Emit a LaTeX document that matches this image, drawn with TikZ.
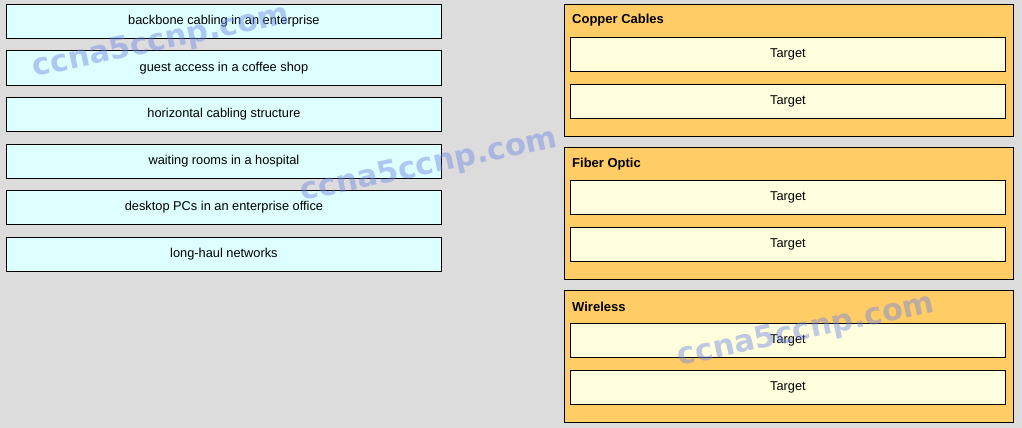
\documentclass[tikz,border=0pt]{standalone}
\usepackage{fontspec}
\setmainfont{Liberation Sans}
\newfontfamily\markfont{DejaVu Sans Bold}
\definecolor{bgray}{HTML}{DCDCDC}
\definecolor{itemcyan}{HTML}{DDFFFF}
\definecolor{grouporange}{HTML}{FFCC66}
\definecolor{targetyellow}{HTML}{FFFFDD}
\definecolor{markblue}{HTML}{6F86E6}
\begin{document}
\begin{tikzpicture}[x=1pt,y=-1pt,
  item/.style={draw=black, line width=0.9pt, fill=itemcyan, anchor=north west,
    minimum width=435pt, minimum height=34pt, inner sep=0pt, font=\fontsize{12.8}{14}\selectfont},
  group/.style={draw=black, line width=0.9pt, fill=grouporange, anchor=north west,
    minimum width=449pt, minimum height=132pt, inner sep=0pt},
  grouptitle/.style={anchor=west, inner sep=0pt, font=\fontsize{13}{15}\selectfont\bfseries},
  target/.style={draw=black, line width=0.9pt, fill=targetyellow, anchor=north west,
    minimum width=435pt, minimum height=34pt, inner sep=0pt, font=\fontsize{12.8}{14}\selectfont},
  watermark/.style={text=markblue, opacity=0.45, rotate=12, inner sep=0pt,
    font=\markfont\fontsize{30.5}{32}\selectfont}]
\fill[bgray] (0,0) rectangle (1022,428);
\useasboundingbox (0,0) rectangle (1022,428);
% items to drag
\node[item] (backbone) at (6,4) {backbone cabling in an enterprise};
\node[item] (coffee) at (6,50.5) {guest access in a coffee shop};
\node[item] (horizontal) at (6,97) {horizontal cabling structure};
\node[item] (hospital) at (6,143.5) {waiting rooms in a hospital};
\node[item] (desktop) at (6,190) {desktop PCs in an enterprise office};
\node[item] (longhaul) at (6,236.5) {long-haul networks};
% categories
\node[group] (copper) at (564,4) {};
\node[grouptitle] (coppertitle) at (572,20.5) {Copper Cables};
\node[target] (copperA) at (570,37) {Target};
\node[target] (copperB) at (570,84) {Target};
\node[group] (fiber) at (564,147) {};
\node[grouptitle] (fibertitle) at (572,164) {Fiber Optic};
\node[target] (fiberA) at (570,180) {Target};
\node[target] (fiberB) at (570,227) {Target};
\node[group] (wireless) at (564,290) {};
\node[grouptitle] (wirelesstitle) at (572,307) {Wireless};
\node[target] (wirelessA) at (570,323) {Target};
\node[target] (wirelessB) at (570,370) {Target};
% watermarks
\node[watermark] (markA) at (161,42) {ccna5ccnp.com};
\node[watermark] (markB) at (429,166) {ccna5ccnp.com};
\node[watermark] (markC) at (806,331) {ccna5ccnp.com};
\end{tikzpicture}
\end{document}
